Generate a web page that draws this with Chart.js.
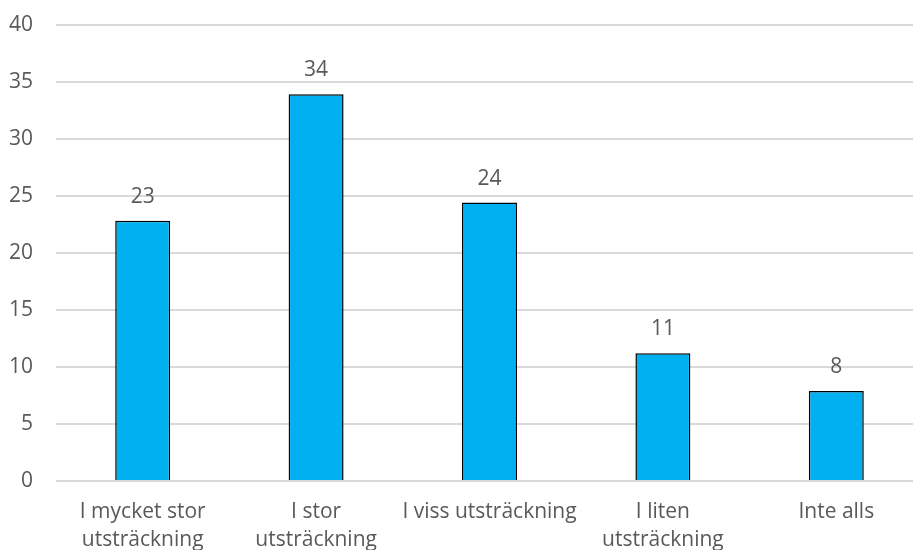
<!DOCTYPE html>
<html lang="sv">
<head>
<meta charset="utf-8">
<script src="https://cdn.jsdelivr.net/npm/chart.js@4"></script>
<style>
  html, body { margin: 0; padding: 0; background: #fff; overflow: hidden; }
  #wrap { position: relative; top: -11px; width: 923px; height: 582px; }
</style>
</head>
<body>
<div id="wrap"><canvas id="stapel"></canvas></div>
<script>
// Kategorier och andelar
const kategorier = [
    ['I mycket stor', 'utsträckning'],
    ['I stor', 'utsträckning'],
    'I viss utsträckning',
    ['I liten', 'utsträckning'],
    'Inte alls'
];
const andelar = [22.8, 33.9, 24.4, 11.2, 7.9];
const yTicks = [0, 5, 10, 15, 20, 25, 30, 35, 40];

const textFarg = '#595959';
const typsnitt = '"Open Sans", sans-serif';

// Skriver värdet ovanför varje stapel
const stapelEtiketter = {
    id: 'stapelEtiketter',
    afterDatasetsDraw(chart) {
        const ctx = chart.ctx;
        const meta = chart.getDatasetMeta(0);
        ctx.save();
        ctx.fillStyle = textFarg;
        ctx.font = '21px ' + typsnitt;
        ctx.textAlign = 'center';
        ctx.textBaseline = 'alphabetic';
        meta.data.forEach((bar, i) => {
            ctx.fillText(Math.round(andelar[i]), bar.x, bar.y - 18);
        });
        ctx.restore();
    }
};

const canvas = document.getElementById('stapel');
new Chart(canvas.getContext('2d'), {
    type: 'bar',
    data: {
        labels: kategorier,
        datasets: [{
            data: andelar,
            backgroundColor: '#00b0f0',
            borderColor: '#000000',
            borderWidth: 1.5,
            barPercentage: 0.317,
            categoryPercentage: 1.0
        }]
    },
    options: {
        responsive: true,
        maintainAspectRatio: false,
        animation: false,
        layout: { padding: { top: 1, right: 0, left: 0, bottom: 0 } },
        plugins: {
            legend: { display: false },
            tooltip: { enabled: false }
        },
        scales: {
            x: {
                grid: { display: false, drawTicks: false },
                border: { display: false },
                ticks: {
                    color: textFarg,
                    font: { family: typsnitt, size: 21, lineHeight: 1.38 },
                    padding: 16,
                    maxRotation: 0,
                    autoSkip: false
                }
            },
            y: {
                min: 0,
                max: 40,
                afterBuildTicks(axis) {
                    axis.ticks = yTicks.map(v => ({ value: v }));
                },
                afterFit(axis) { axis.width = 56; },
                grid: { color: '#d9d9d9', lineWidth: 2, drawTicks: false },
                border: { display: false },
                ticks: {
                    color: textFarg,
                    font: { family: typsnitt, size: 21 },
                    padding: 23
                }
            }
        }
    },
    plugins: [stapelEtiketter]
});
</script>
</body>
</html>
